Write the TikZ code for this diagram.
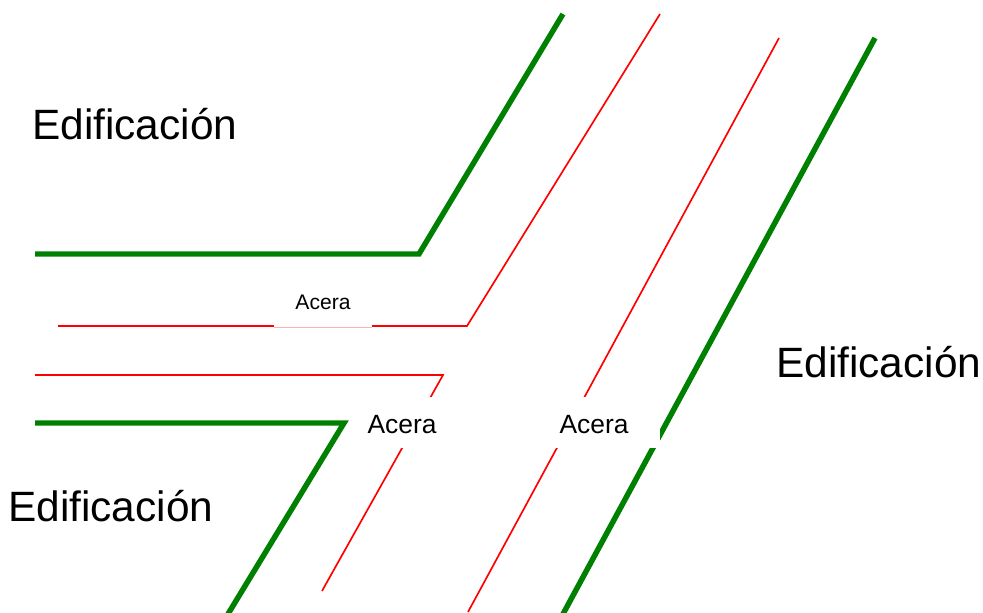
\documentclass[tikz,border=0pt]{standalone}
\usepackage{fontspec}
\setmainfont{Liberation Sans}
\tikzset{
  redline/.style={draw=red,line width=1.25pt,line join=miter},
  greenline/.style={draw=green!50!black,line width=4.1pt,line join=miter},
  bigtext/.style={font=\fontsize{31.8}{36}\selectfont,inner sep=0pt,text=black},
  masktwo/.style={fill=white,inner sep=0pt,minimum width=85.5pt,minimum height=38.25pt},
  maskthree/.style={fill=white,inner sep=0pt,minimum width=97.5pt,minimum height=38.25pt},
  maskone/.style={fill=white,inner sep=0pt,minimum width=73.5pt,minimum height=37.5pt},
  midtext/.style={inner sep=0pt,font=\fontsize{19.8}{24}\selectfont,text=black},
  smalltext/.style={inner sep=0pt,font=\fontsize{15.8}{19}\selectfont,text=black}
}
\begin{document}
\begin{tikzpicture}[x=0.75pt,y=-0.75pt]
\useasboundingbox (0,0) rectangle (983,612);
\clip (0,0) rectangle (983,612);
% coordinates
\coordinate (r1a) at (58,326); \coordinate (r1b) at (467,326); \coordinate (r1c) at (660,14);
\coordinate (r2a) at (35,375); \coordinate (r2b) at (443,375); \coordinate (r2c) at (322,591);
\coordinate (r3a) at (779,38); \coordinate (r3b) at (468,612);
\coordinate (g1a) at (35,254); \coordinate (g1b) at (419,254); \coordinate (g1c) at (563,14);
\coordinate (g2a) at (35,423); \coordinate (g2b) at (344,423); \coordinate (g2c) at (228,614);
\coordinate (g3a) at (875,38); \coordinate (g3b) at (563,614);
% lines
\draw[redline] (r1a) -- (r1b) -- (r1c);
\draw[redline] (r2a) -- (r2b) -- (r2c);
\draw[redline] (r3a) -- (r3b);
\draw[greenline] (g1a) -- (g1b) -- (g1c);
\draw[greenline] (g3a) -- (g3b);
% white masks
\node[maskone] (mask1) at (323,302) {};
\draw[red!30,line width=0.7pt] (mask1.south west) -- (mask1.south east);
\node[masktwo] (mask2) at (403,422.5) {};
\node[maskthree] (mask3) at (595,422.5) {};
\draw[greenline] (g2a) -- (g2b) -- (g2c);
% labels
\node[smalltext] (acera1) at (323,302.5) {Acera};
\node[midtext] (acera2) at (402,425) {Acera};
\node[midtext] (acera3) at (594,425) {Acera};
\node[bigtext,anchor=base west] (ed1) at (32,139.5) {Edificación};
\node[bigtext,anchor=base west] (ed2) at (776,377) {Edificación};
\node[bigtext,anchor=base west] (ed3) at (8,521.5) {Edificación};
\end{tikzpicture}
\end{document}
